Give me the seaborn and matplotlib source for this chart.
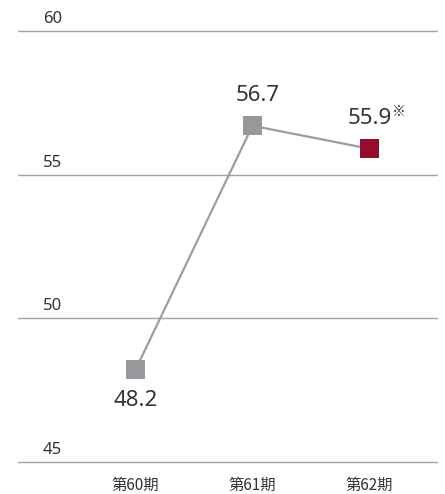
import matplotlib
matplotlib.use("Agg")
import matplotlib.pyplot as plt
import seaborn as sns
import pandas as pd

periods = ["第60期", "第61期", "第62期"]
values = [48.2, 56.7, 55.9]
notes = ["", "", "※"]
marker_colors = ["#97979c", "#97979c", "#970b2d"]
label_side = [-1, 1, 1]          # -1: below the point, 1: above
y_ticks = [45, 50, 55, 60]

sns.set_theme(style="white")
plt.rcParams["font.family"] = ["Noto Sans", "Noto Sans CJK JP", "DejaVu Sans"]

df = pd.DataFrame({"pos": list(range(len(periods))), "period": periods, "value": values})

fig = plt.figure(figsize=(4.45, 4.94), dpi=100)
ax = fig.add_axes([18 / 445, 1 - 461.7 / 494, 419 / 445, (461.7 - 31) / 494])

text_color = "#333333"
grid_color = "#a3a3a3"

for t in y_ticks:
    ax.axhline(t, color=grid_color, lw=1.0, zorder=1, clip_on=False)
    ax.annotate(str(t), xy=(0.0823, t), xycoords=("axes fraction", "data"),
                xytext=(0, 8.6), textcoords="offset points",
                ha="center", va="center", fontsize=12, color=text_color)

sns.lineplot(data=df, x="pos", y="value", color="#9d9d9d", lw=1.6, ax=ax, zorder=2)
sns.scatterplot(data=df, x="pos", y="value", hue="period", palette=marker_colors,
                marker="s", s=190, edgecolor="none", linewidth=0, legend=False,
                ax=ax, zorder=3)

for i, (v, n, side) in enumerate(zip(values, notes, label_side)):
    dx = 3.5 if i == 1 else 0
    ax.annotate(f"{v:.1f}", xy=(i, v), xytext=(dx, side * 21.8), textcoords="offset points",
                ha="center", va="center", fontsize=16, color=text_color)
    if n:
        ax.annotate(n, xy=(i, v), xytext=(21, 26.5), textcoords="offset points",
                    ha="center", va="center", fontsize=10, color=text_color,
                    family=["Noto Sans CJK JP", "DejaVu Sans"])

ax.set_xlim(-1.004, 2.577)
ax.set_ylim(45, 60)
ax.set_xticks(df["pos"])
ax.set_xticklabels(periods, fontsize=11, color=text_color,
                   family=["Noto Sans CJK JP", "DejaVu Sans"])
ax.set_yticks([])
ax.tick_params(axis="x", length=0, pad=11)
ax.set_xlabel("")
ax.set_ylabel("")
for s in ax.spines.values():
    s.set_visible(False)

fig.savefig("out.png", dpi=100)
